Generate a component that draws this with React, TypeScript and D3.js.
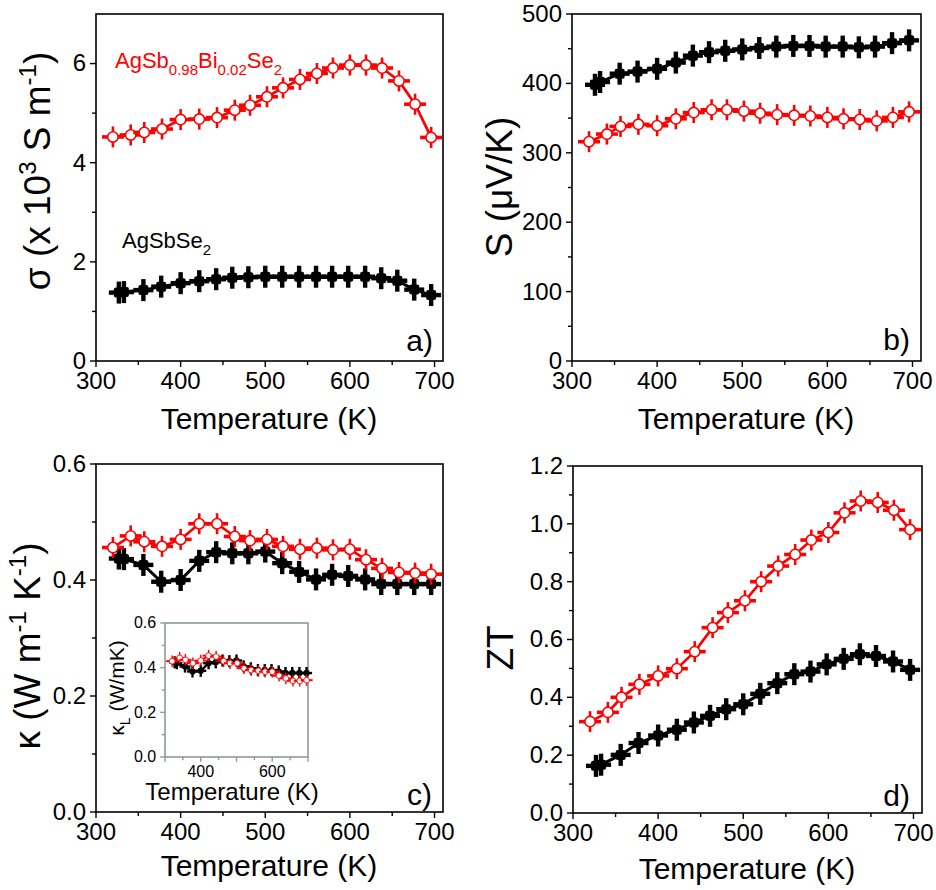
import * as d3 from 'd3'

// temperatures (K) of the two samples
const tempPure = [327, 333, 356, 377, 400, 422, 442, 461, 480, 500, 520, 540, 560, 579, 598, 618, 637, 656, 676, 696]
const tempBi = [320, 341, 357, 378, 400, 422, 443, 464, 482, 502, 521, 541, 561, 580, 600, 619, 638, 658, 677, 696]

// a) electrical conductivity, x 10^3 S/m
const sigmaPure = [1.38, 1.39, 1.43, 1.5, 1.57, 1.61, 1.65, 1.68, 1.69, 1.7, 1.7, 1.7, 1.7, 1.7, 1.7, 1.7, 1.67, 1.62, 1.44, 1.33]
const sigmaBi = [4.52, 4.56, 4.61, 4.68, 4.87, 4.88, 4.91, 5.06, 5.16, 5.33, 5.51, 5.68, 5.8, 5.91, 5.97, 5.97, 5.91, 5.65, 5.18, 4.51]

// b) Seebeck coefficient, uV/K
const seebeckPure = [398, 402, 414, 417, 421, 430, 440, 445, 447, 449, 451, 453, 454, 454, 453, 453, 452, 453, 458, 462]
const seebeckBi = [316, 327, 338, 341, 339, 349, 358, 362, 362, 360, 357, 355, 354, 353, 351, 349, 348, 346, 351, 359]

// c) total thermal conductivity, W/mK
const kappaPure = [0.437, 0.436, 0.426, 0.397, 0.4, 0.433, 0.448, 0.446, 0.446, 0.449, 0.429, 0.414, 0.401, 0.409, 0.407, 0.401, 0.393, 0.393, 0.393, 0.393]
const kappaBi = [0.456, 0.476, 0.466, 0.458, 0.47, 0.497, 0.497, 0.475, 0.468, 0.47, 0.458, 0.453, 0.455, 0.452, 0.453, 0.435, 0.42, 0.413, 0.412, 0.41]

// c) inset, lattice thermal conductivity
const kappaLPure = [0.424, 0.42, 0.405, 0.383, 0.386, 0.42, 0.424, 0.432, 0.429, 0.432, 0.406, 0.397, 0.389, 0.389, 0.389, 0.383, 0.376, 0.376, 0.376, 0.376]
const kappaLBi = [0.429, 0.444, 0.435, 0.42, 0.432, 0.454, 0.45, 0.429, 0.42, 0.42, 0.397, 0.389, 0.386, 0.382, 0.382, 0.364, 0.352, 0.341, 0.341, 0.344]

// d) figure of merit
const ztPure = [0.163, 0.167, 0.201, 0.242, 0.268, 0.288, 0.313, 0.336, 0.359, 0.376, 0.412, 0.449, 0.48, 0.489, 0.514, 0.533, 0.549, 0.543, 0.524, 0.495]
const ztBi = [0.316, 0.348, 0.4, 0.445, 0.474, 0.499, 0.558, 0.641, 0.693, 0.734, 0.8, 0.854, 0.894, 0.944, 0.97, 1.038, 1.079, 1.074, 1.047, 0.98]

const xTicks = [300, 400, 500, 600, 700]
const xMinor = [350, 450, 550, 650]

const RED = '#ff0000'
const FONT = 'Liberation Sans, Arial, sans-serif'

function Plus({ x, y, s }: { x: number; y: number; s: number }) {
  return (
    <g transform={`translate(${x},${y}) scale(${s})`} fill="#000">
      <rect x={-2.2} y={-11} width={4.4} height={22} />
      <rect x={-10} y={-2.2} width={20} height={4.4} />
      <rect x={-5} y={-5} width={10} height={10} rx={2} />
    </g>
  )
}

function Ring({ x, y, s }: { x: number; y: number; s: number }) {
  return (
    <g transform={`translate(${x},${y}) scale(${s})`}>
      <line x1={0} x2={0} y1={-10.5} y2={10.5} stroke={RED} strokeWidth={2.6} />
      <line x1={-11} x2={11} y1={0} y2={0} stroke={RED} strokeWidth={3.6} />
      <circle r={5.2} fill="#fff" stroke={RED} strokeWidth={1.6} />
    </g>
  )
}

interface PanelProps {
  l: number
  r: number
  t: number
  b: number
  xDomain: [number, number]
  yDomain: [number, number]
  yTicks: number[]
  yMinor: number[]
  fmt: (v: number) => string
  xLabels: number[]
  pure: number[]
  bi: number[]
  frame?: string
  font?: number
  ms?: number
  lw?: number
}

function Panel({ l, r, t, b, xDomain, yDomain, yTicks, yMinor, fmt, xLabels, pure, bi, frame = '#000', font = 24, ms = 1, lw = 3 }: PanelProps) {
  const x = d3.scaleLinear().domain(xDomain).range([l, r])
  const y = d3.scaleLinear().domain(yDomain).range([b, t])
  const line = d3.line<number>()
  const purePath = line(pure.map((v, i) => [x(tempPure[i]), y(v)]) as any) || ''
  const biPath = line(bi.map((v, i) => [x(tempBi[i]), y(v)]) as any) || ''
  const major = 6 * (ms < 1 ? 0.8 : 1)
  const minor = 4 * (ms < 1 ? 0.8 : 1)
  const xMaj = xTicks.filter(v => v >= xDomain[0] && v <= xDomain[1])
  const xMin = xMinor.filter(v => v >= xDomain[0] && v <= xDomain[1])

  return (
    <g fontFamily={FONT}>
      <rect x={l} y={t} width={r - l} height={b - t} fill="#fff" stroke={frame} strokeWidth={1.6} />
      {xMaj.map(v => (
        <line key={'xm' + v} x1={x(v)} x2={x(v)} y1={b} y2={b + major} stroke={frame} strokeWidth={1.4} />
      ))}
      {xMin.map(v => (
        <line key={'xn' + v} x1={x(v)} x2={x(v)} y1={b} y2={b + minor} stroke={frame} strokeWidth={1.4} />
      ))}
      {xLabels.map(v => (
        <text key={'xl' + v} x={x(v)} y={b + major + font * 0.92} fontSize={font} textAnchor="middle">
          {v}
        </text>
      ))}
      {yTicks.map(v => (
        <g key={'ym' + v}>
          <line x1={l - major} x2={l} y1={y(v)} y2={y(v)} stroke={frame} strokeWidth={1.4} />
          <text x={l - major - 4} y={y(v) + font * 0.33} fontSize={font} textAnchor="end">
            {fmt(v)}
          </text>
        </g>
      ))}
      {yMinor.map(v => (
        <line key={'yn' + v} x1={l - minor} x2={l} y1={y(v)} y2={y(v)} stroke={frame} strokeWidth={1.4} />
      ))}
      <path d={purePath} fill="none" stroke="#000" strokeWidth={lw} />
      {pure.map((v, i) => (
        <Plus key={'p' + i} x={x(tempPure[i])} y={y(v)} s={ms} />
      ))}
      <path d={biPath} fill="none" stroke={RED} strokeWidth={lw * 0.9} />
      {bi.map((v, i) => (
        <Ring key={'r' + i} x={x(tempBi[i])} y={y(v)} s={ms} />
      ))}
    </g>
  )
}

const sup = -14

export default function App() {
  return (
    <svg width={936} height={890} style={{ position: 'absolute', left: 0, top: 0, background: '#fff' }} fontFamily={FONT}>
      <rect width={936} height={890} fill="#fff" />

      {/* a) */}
      <Panel
        l={96} r={443} t={14} b={361}
        xDomain={[300, 710]} yDomain={[0, 7]}
        yTicks={[0, 2, 4, 6]} yMinor={[1, 3, 5]} fmt={d3.format('d')}
        xLabels={xTicks} pure={sigmaPure} bi={sigmaBi}
      />
      <text x={269} y={429} fontSize={30} textAnchor="middle">Temperature (K)</text>
      <text transform="translate(50,171) rotate(-90)" fontSize={37} textAnchor="middle">
        σ (x 10<tspan dy={sup} fontSize={24}>3</tspan>
        <tspan dy={-sup}> S m</tspan>
        <tspan dy={sup} fontSize={24}>-1</tspan>
        <tspan dy={-sup}>)</tspan>
      </text>
      <text x={115} y={68} fontSize={22} fill={RED}>
        AgSb<tspan dy={7} fontSize={15}>0.98</tspan>
        <tspan dy={-7}>Bi</tspan>
        <tspan dy={7} fontSize={15}>0.02</tspan>
        <tspan dy={-7}>Se</tspan>
        <tspan dy={7} fontSize={15}>2</tspan>
      </text>
      <text x={122} y={248} fontSize={22}>
        AgSbSe<tspan dy={7} fontSize={15}>2</tspan>
      </text>
      <text x={433} y={351} fontSize={30} textAnchor="end">a)</text>

      {/* b) */}
      <Panel
        l={572} r={921} t={14} b={361}
        xDomain={[300, 710]} yDomain={[0, 500]}
        yTicks={[0, 100, 200, 300, 400, 500]} yMinor={[50, 150, 250, 350, 450]} fmt={d3.format('d')}
        xLabels={xTicks} pure={seebeckPure} bi={seebeckBi}
      />
      <text x={746} y={429} fontSize={30} textAnchor="middle">Temperature (K)</text>
      <text transform="translate(512,187) rotate(-90)" fontSize={37} textAnchor="middle">S (μV/K)</text>
      <text x={910} y={350} fontSize={30} textAnchor="end">b)</text>

      {/* c) */}
      <Panel
        l={96} r={443} t={464} b={812}
        xDomain={[300, 710]} yDomain={[0, 0.6]}
        yTicks={[0, 0.2, 0.4, 0.6]} yMinor={[0.1, 0.3, 0.5]} fmt={d3.format('.1f')}
        xLabels={xTicks} pure={kappaPure} bi={kappaBi}
      />
      <text x={269} y={876} fontSize={30} textAnchor="middle">Temperature (K)</text>
      <text transform="translate(40,646) rotate(-90)" fontSize={37} textAnchor="middle">
        κ (W m<tspan dy={sup} fontSize={24}>-1</tspan>
        <tspan dy={-sup}> K</tspan>
        <tspan dy={sup} fontSize={24}>-1</tspan>
        <tspan dy={-sup}>)</tspan>
      </text>
      <text x={432} y={805} fontSize={30} textAnchor="end">c)</text>

      {/* c) inset */}
      <Panel
        l={165} r={308} t={623} b={757}
        xDomain={[300, 700]} yDomain={[0, 0.6]}
        yTicks={[0, 0.2, 0.4, 0.6]} yMinor={[0.1, 0.3, 0.5]} fmt={d3.format('.1f')}
        xLabels={[400, 600]} pure={kappaLPure} bi={kappaLBi}
        frame="#8c9a9a" font={16} ms={0.55} lw={2.4}
      />
      <text x={232} y={800} fontSize={24} textAnchor="middle">Temperature (K)</text>
      <text transform="translate(124,688) rotate(-90)" fontSize={21} textAnchor="middle">
        κ<tspan dy={6} fontSize={14}>L</tspan>
        <tspan dy={-6}> (W/mK)</tspan>
      </text>

      {/* d) */}
      <Panel
        l={573} r={922} t={466} b={813}
        xDomain={[300, 710]} yDomain={[0, 1.2]}
        yTicks={[0, 0.2, 0.4, 0.6, 0.8, 1.0, 1.2]} yMinor={[0.1, 0.3, 0.5, 0.7, 0.9, 1.1]} fmt={d3.format('.1f')}
        xLabels={xTicks} pure={ztPure} bi={ztBi}
      />
      <text x={747} y={879} fontSize={30} textAnchor="middle">Temperature (K)</text>
      <text transform="translate(513,648) rotate(-90)" fontSize={37} textAnchor="middle">ZT</text>
      <text x={910} y={806} fontSize={30} textAnchor="end">d)</text>
    </svg>
  )
}
